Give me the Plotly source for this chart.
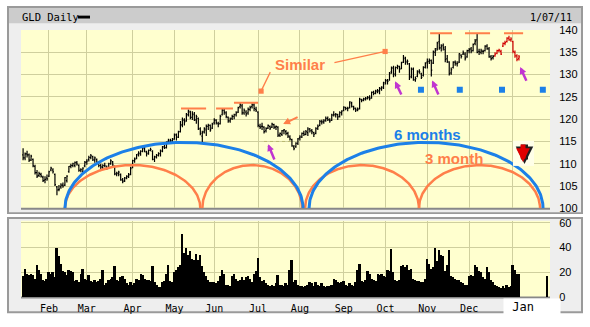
import numpy as np
import plotly.graph_objects as go

W, H = 590, 327


def px(x):
    return x / W


def py(y):
    return 1 - y / H


# x positions are trading-day numbers, day 0 = 12 Jan 2010
MONTHS = ["Feb", "Mar", "Apr", "May", "Jun", "Jul", "Aug", "Sep", "Oct", "Nov", "Dec", "Jan"]
MONTH_START = [13, 32, 55, 76, 96, 118, 139, 161, 182, 203, 224, 246]

OPEN = [
    112.0, 111.3, 112.2, 112.0, 110.8, 111.0, 109.4, 108.0, 107.4, 107.6, 107.0, 106.3, 106.8,
    107.2, 108.6, 108.6, 107.6, 104.8, 104.2, 104.8, 105.2, 105.2, 106.2, 108.2, 109.4, 109.6, 109.6, 110.2, 109.6, 108.6, 108.2, 109.5,
    110.4, 111.0, 111.4, 111.6, 110.8, 111.0, 110.3, 109.6, 109.2, 109.6, 109.2, 109.2, 110.0, 110.4, 109.4, 107.6, 107.8, 107.6, 106.4, 106.2, 106.8, 107.2, 107.6,
    109.2, 110.7, 111.2, 112.2, 112.2, 112.8, 113.4, 112.6, 112.4, 113.0, 112.8, 111.0, 111.6, 111.9, 112.2, 112.8, 113.8, 113.6, 115.0, 115.0, 115.2,
    115.6, 116.4, 116.0, 117.2, 118.8, 119.8, 119.6, 121.0, 121.6, 120.4, 121.0, 119.8, 120.2, 117.8, 116.2, 117.2, 117.6, 118.4, 118.6, 118.0,
    119.2, 119.8, 119.0, 119.0, 121.0, 122.0, 121.4, 120.4, 119.6, 120.2, 120.6, 121.0, 121.6, 122.8, 123.0, 121.4, 121.6, 121.4, 122.2, 122.8, 123.2, 122.2,
    121.6, 118.4, 118.4, 118.2, 117.4, 118.0, 118.4, 118.2, 118.8, 118.2, 118.2, 116.4, 116.6, 117.4, 117.2, 116.8, 116.0, 115.4, 113.8, 113.8, 114.6,
    115.8, 116.0, 116.8, 116.6, 117.0, 117.8, 117.4, 117.0, 116.8, 118.0, 118.6, 119.4, 119.4, 119.8, 120.2, 119.8, 119.8, 121.0, 121.0, 121.0, 120.6, 121.4,
    122.0, 122.6, 122.4, 122.6, 123.6, 122.8, 122.4, 122.0, 122.4, 124.4, 124.2, 124.6, 124.8, 124.8, 124.8, 126.0, 125.8, 126.4, 126.4, 126.8, 127.2,
    128.2, 128.6, 128.8, 130.6, 131.4, 130.2, 131.6, 131.8, 131.4, 132.8, 133.6, 132.8, 132.4, 129.6, 131.2, 128.8, 129.6, 130.6, 130.2, 129.8, 131.6,
    132.8, 133.0, 133.2, 132.6, 135.0, 135.8, 137.4, 136.0, 136.6, 135.6, 133.6, 132.8, 130.4, 131.6, 132.8, 132.4, 132.8, 134.4, 134.6, 134.6, 134.0,
    135.4, 135.8, 135.4, 137.0, 137.8, 135.2, 135.0, 135.2, 135.4, 136.4, 135.8, 134.0, 133.8, 134.2, 134.8, 135.4, 135.2, 136.4, 137.0, 137.4, 138.2, 137.8,
    137.4, 135.0, 134.2, 133.6,
]
HIGH = [
    113.5, 112.5, 112.9, 112.3, 112.0, 111.2, 109.8, 108.6, 108.2, 108.0, 107.3, 107.2, 107.6,
    108.4, 109.3, 109.0, 107.8, 105.0, 105.2, 105.6, 105.8, 107.0, 107.4, 109.5, 110.0, 110.2, 110.5, 110.6, 109.9, 109.0, 109.2, 110.6,
    111.0, 111.8, 112.2, 111.8, 111.6, 111.2, 110.5, 110.0, 109.9, 110.2, 109.6, 110.2, 111.0, 110.6, 109.6, 108.2, 108.4, 107.8, 106.8, 107.0, 107.4, 107.9, 109.3,
    110.9, 111.4, 112.2, 112.8, 113.0, 113.8, 113.8, 112.9, 113.2, 113.6, 113.0, 111.8, 112.2, 112.6, 113.2, 114.0, 114.2, 115.0, 115.6, 115.6, 115.8,
    116.8, 116.8, 117.4, 119.6, 120.4, 120.2, 121.4, 122.2, 121.9, 121.8, 121.6, 121.0, 120.4, 118.2, 117.4, 118.2, 118.8, 119.0, 118.8, 119.2,
    120.2, 120.0, 119.4, 121.0, 122.4, 122.4, 121.8, 120.6, 120.4, 121.0, 121.2, 121.8, 122.8, 123.7, 123.4, 122.4, 122.0, 122.6, 123.0, 123.6, 123.6, 122.8,
    121.8, 119.0, 119.2, 118.4, 118.2, 118.8, 118.6, 119.2, 119.0, 118.6, 118.4, 117.0, 117.6, 117.8, 117.6, 117.2, 116.4, 115.6, 114.2, 114.8, 115.8,
    116.4, 117.0, 117.4, 117.6, 118.2, 118.0, 117.8, 117.2, 118.2, 118.8, 119.8, 119.9, 120.0, 120.6, 120.6, 120.2, 121.2, 121.8, 121.4, 121.2, 121.8, 122.0,
    122.9, 122.8, 122.8, 124.0, 123.9, 123.0, 122.6, 122.6, 124.8, 124.6, 124.8, 125.0, 125.2, 125.4, 126.2, 126.4, 126.6, 126.8, 127.2, 127.4, 128.4,
    129.0, 129.0, 130.6, 131.8, 132.0, 131.8, 132.2, 132.0, 132.9, 134.4, 134.0, 133.4, 132.6, 131.6, 131.6, 129.6, 131.0, 131.2, 130.4, 131.9, 132.8,
    133.6, 133.6, 133.4, 135.4, 136.0, 137.4, 139.3, 136.8, 137.0, 136.4, 134.4, 133.0, 131.6, 133.0, 133.2, 133.0, 134.8, 134.6, 135.4, 135.0, 135.6,
    136.0, 136.2, 137.0, 138.0, 139.1, 135.8, 135.8, 135.6, 136.6, 136.8, 136.2, 134.4, 134.4, 135.0, 135.6, 135.8, 135.6, 137.2, 137.6, 138.4, 138.7, 138.4,
    137.6, 135.4, 134.6, 134.4,
]
LOW = [
    110.8, 110.8, 111.4, 110.4, 110.6, 109.2, 107.6, 106.8, 107.0, 106.9, 105.9, 105.6, 106.2,
    107.0, 108.3, 107.8, 105.0, 102.9, 103.8, 104.4, 104.6, 105.0, 105.8, 108.0, 109.0, 109.2, 109.2, 109.6, 108.2, 108.1, 107.7, 109.2,
    109.8, 110.5, 111.0, 110.6, 110.2, 110.0, 109.2, 108.8, 108.7, 109.2, 108.6, 109.0, 109.8, 109.4, 107.4, 107.2, 107.2, 106.2, 105.6, 105.9, 106.5, 106.8, 107.4,
    109.0, 110.2, 111.0, 111.6, 111.8, 112.6, 112.6, 111.6, 112.0, 112.8, 110.8, 110.4, 111.2, 111.6, 111.6, 112.6, 113.3, 113.4, 114.6, 114.5, 114.8,
    115.4, 115.2, 115.8, 117.0, 118.2, 118.6, 119.4, 120.6, 120.0, 119.8, 119.6, 119.0, 117.6, 116.4, 114.6, 116.8, 116.2, 117.6, 117.2, 117.8,
    118.8, 118.8, 118.2, 118.8, 120.8, 121.0, 120.2, 119.2, 119.2, 119.8, 120.0, 120.6, 121.4, 122.4, 121.0, 121.0, 120.6, 121.0, 121.8, 122.4, 121.8, 121.6,
    118.2, 117.8, 117.6, 116.8, 117.0, 117.8, 117.6, 118.0, 117.8, 117.6, 116.0, 116.0, 116.2, 116.6, 116.4, 115.8, 115.2, 113.8, 113.0, 113.6, 114.2,
    115.2, 115.8, 116.2, 116.4, 116.2, 117.0, 116.6, 116.0, 116.6, 117.6, 118.4, 118.8, 119.0, 119.4, 119.6, 119.2, 119.6, 120.6, 120.4, 119.8, 120.4, 120.8,
    121.8, 122.0, 121.8, 122.4, 122.6, 122.0, 121.6, 121.8, 122.2, 123.8, 124.0, 124.2, 124.4, 124.2, 124.6, 125.4, 125.6, 125.8, 125.6, 126.4, 126.8,
    127.8, 127.8, 128.6, 130.2, 129.4, 129.6, 131.2, 130.4, 131.2, 132.6, 132.2, 132.2, 128.8, 129.2, 128.6, 128.4, 129.4, 130.2, 129.0, 129.6, 131.4,
    131.4, 132.4, 129.6, 132.4, 134.2, 135.4, 135.6, 135.2, 135.4, 132.8, 132.6, 129.8, 130.0, 131.4, 132.0, 131.8, 132.6, 133.6, 134.4, 133.2, 133.8,
    134.8, 134.8, 135.2, 136.6, 134.8, 134.4, 134.6, 134.6, 135.2, 135.6, 133.8, 133.2, 133.4, 134.0, 134.6, 135.0, 134.4, 136.2, 136.6, 137.2, 137.6, 137.4,
    134.8, 133.8, 133.0, 133.2,
]
CLOSE = [
    111.3, 112.2, 112.0, 110.8, 111.7, 109.5, 108.0, 107.2, 107.8, 107.2, 106.2, 106.5, 106.6,
    108.2, 109.0, 108.2, 105.3, 104.1, 104.3, 105.2, 105.0, 106.9, 107.2, 109.4, 109.6, 110.0, 110.3, 109.9, 108.5, 108.7, 109.0, 110.3,
    110.6, 111.4, 111.8, 110.9, 111.3, 110.3, 109.6, 109.3, 109.6, 109.5, 109.0, 110.0, 110.7, 109.7, 107.8, 107.9, 108.1, 106.4, 106.0, 106.8, 107.1, 107.5, 108.9,
    110.7, 111.0, 112.0, 112.4, 112.8, 113.6, 112.8, 112.2, 113.0, 113.2, 111.0, 111.5, 111.9, 112.3, 112.9, 113.8, 113.6, 114.9, 115.3, 115.1, 115.4,
    116.6, 115.9, 117.2, 118.6, 119.8, 119.4, 121.0, 121.8, 120.4, 121.2, 119.9, 120.6, 117.9, 116.8, 117.0, 117.9, 118.4, 118.6, 117.6, 118.9,
    119.8, 119.2, 118.9, 120.6, 122.0, 121.6, 120.6, 119.6, 120.0, 120.6, 121.0, 121.4, 122.6, 123.2, 121.4, 122.0, 121.2, 122.2, 122.6, 123.2, 122.4, 122.0,
    118.6, 118.2, 118.4, 117.2, 117.9, 118.6, 118.0, 118.9, 118.2, 118.4, 116.4, 116.8, 117.4, 117.6, 116.8, 116.2, 115.6, 114.0, 113.4, 114.6, 115.6,
    116.0, 116.8, 116.6, 117.2, 117.8, 117.4, 117.2, 116.6, 117.9, 118.4, 119.5, 119.4, 119.6, 120.2, 119.9, 119.6, 120.9, 121.0, 121.1, 120.5, 121.5, 121.8,
    122.7, 122.4, 122.4, 123.9, 122.9, 122.5, 122.1, 122.2, 124.5, 124.3, 124.5, 124.6, 124.9, 124.6, 126.0, 125.8, 126.2, 126.3, 126.9, 127.0, 127.9,
    128.7, 128.5, 130.3, 131.6, 130.0, 131.6, 131.9, 131.2, 132.7, 133.9, 133.0, 133.0, 129.3, 131.3, 128.9, 129.1, 130.8, 130.6, 129.4, 131.7, 132.6,
    132.9, 133.1, 131.0, 135.1, 135.4, 137.1, 136.0, 136.4, 136.0, 133.4, 133.0, 130.2, 131.1, 132.8, 132.6, 132.5, 134.7, 134.1, 134.9, 133.7, 135.4,
    135.6, 135.3, 136.8, 137.5, 135.0, 135.1, 135.3, 135.2, 136.4, 135.8, 134.0, 133.6, 134.1, 134.6, 135.4, 135.5, 134.6, 137.0, 137.2, 138.2, 137.8, 138.0,
    135.2, 134.2, 133.4, 134.0,
]
VOLUME = [
    17, 23, 19, 18, 19, 18, 15, 26, 22, 19, 14, 13, 15,
    20, 19, 20, 16, 40, 33, 27, 21, 20, 18, 22, 21, 20, 13, 14, 12, 19, 23, 15,
    14, 18, 13, 12, 14, 12, 13, 15, 22, 10, 11, 14, 15, 16, 25, 14, 13, 16, 17, 15, 11, 10, 12,
    10, 11, 15, 14, 19, 18, 15, 14, 14, 13, 25, 12, 10, 8, 8, 12, 13, 19, 26, 13, 12,
    20, 22, 24, 26, 51, 36, 40, 34, 37, 31, 30, 35, 30, 34, 25, 20, 17, 14, 12, 12,
    12, 11, 13, 17, 22, 19, 10, 10, 9, 17, 19, 15, 13, 14, 16, 14, 16, 17, 15, 12, 19, 21,
    32, 16, 13, 14, 11, 10, 9, 10, 9, 11, 18, 10, 10, 9, 11, 10, 22, 30, 12, 14, 10,
    9, 9, 8, 9, 10, 12, 11, 9, 12, 10, 9, 11, 9, 8, 9, 9, 10, 15, 14, 12, 11, 12,
    13, 10, 9, 11, 10, 9, 12, 22, 27, 13, 12, 14, 21, 19, 15, 14, 13, 19, 18, 19, 17,
    16, 22, 21, 39, 20, 14, 13, 14, 25, 26, 24, 26, 22, 23, 15, 14, 13, 13, 12, 12, 15,
    31, 27, 23, 24, 40, 29, 38, 34, 33, 21, 26, 38, 17, 16, 15, 14, 14, 12, 11, 10, 10,
    17, 18, 17, 26, 24, 21, 20, 16, 15, 24, 20, 14, 12, 10, 9, 8, 7, 9, 7, 10, 8, 9,
    26, 22, 19, 19,
]
RED_FROM = 237          # last stretch of bars is painted red
LATEST_VOL = (263, 17)  # lone volume stick at the right edge

PRICE_TICKS = [100, 105, 110, 115, 120, 125, 130, 135, 140]
VOL_TICKS = [0, 20, 40, 60]

# resistance tops: (first day, last day, level)
TOPS = [(79.3, 91.9, 122.4), (96.9, 105.4, 122.4), (105.9, 118.0, 123.7),
        (204.4, 215.4, 139.3), (221.9, 234.5, 139.3), (241.5, 251.1, 139.3)]

# cycle arcs: (start day, end day, crest level)
CYCLE_3M = [(21.0, 89.0, 109.7), (90.0, 140.1, 109.7), (141.6, 198.8, 109.7), (198.8, 259.6, 109.7)]
CYCLE_6M = [(21.0, 140.6, 114.8), (143.6, 261.1, 114.8)]

BLUE_DOTS_X = [199.8, 219.3, 240.5, 261.0]
BLUE_DOTS_Y = [126.6, 126.6, 126.6, 126.6]

# purple arrows: (head day, head price, tail day, tail price)
PURPLE_ARROWS = [(123.0, 114.4, 126.5, 110.6), (186.8, 128.5, 190.3, 125.2),
                 (205.4, 128.7, 208.9, 125.2), (249.6, 131.7, 253.1, 128.3)]

BLUE = "#1C80E8"
ORANGE = "#FF7F4A"
PURPLE = "#C035D0"
GRID = "#CFCF9E"
YELLOW = "#FFFFCF"

X0, X1 = 21, 550
XR = [-1.05, 264.6]

days = np.arange(len(CLOSE))
fig = go.Figure()

# black bars, then the red tail
k = RED_FROM
for sl, col in ((slice(0, k), "black"), (slice(k, None), "#D00000")):
    fig.add_trace(go.Ohlc(
        x=days[sl], open=OPEN[sl], high=HIGH[sl], low=LOW[sl], close=CLOSE[sl],
        increasing=dict(line=dict(color=col, width=1.2)),
        decreasing=dict(line=dict(color=col, width=1.2)),
        tickwidth=0.5, hoverinfo="skip", showlegend=False, xaxis="x", yaxis="y"))


def arc(x0, x1, top, base=100.0, n=160):
    t = np.linspace(0, np.pi, n)
    cx, a = (x0 + x1) / 2, (x1 - x0) / 2
    return cx - a * np.cos(t), base + (top - base) * np.sin(t)


for x0, x1, top in CYCLE_3M:
    ax_, ay_ = arc(x0, x1, top)
    fig.add_trace(go.Scatter(x=ax_, y=ay_, mode="lines", line=dict(color=ORANGE, width=2.5),
                             hoverinfo="skip", showlegend=False))
for x0, x1, top in CYCLE_6M:
    ax_, ay_ = arc(x0, x1, top)
    fig.add_trace(go.Scatter(x=ax_, y=ay_, mode="lines", line=dict(color=BLUE, width=3),
                             hoverinfo="skip", showlegend=False))

for x0, x1, lvl in TOPS:
    fig.add_trace(go.Scatter(x=[x0, x1], y=[lvl, lvl], mode="lines",
                             line=dict(color=ORANGE, width=2), hoverinfo="skip", showlegend=False))

fig.add_trace(go.Scatter(x=BLUE_DOTS_X, y=BLUE_DOTS_Y, mode="markers",
                         marker=dict(symbol="square", size=6, color=BLUE),
                         hoverinfo="skip", showlegend=False))

# volume
fig.add_trace(go.Bar(x=days, y=VOLUME, width=1.0, marker=dict(color="black", line=dict(width=0)),
                     xaxis="x2", yaxis="y2", hoverinfo="skip", showlegend=False))
fig.add_trace(go.Bar(x=[LATEST_VOL[0]], y=[LATEST_VOL[1]], width=0.7,
                     marker=dict(color="black", line=dict(width=0)),
                     xaxis="x2", yaxis="y2", hoverinfo="skip", showlegend=False))

# frames and backgrounds (paper space)
shapes = [
    dict(type="rect", x0=px(7), x1=px(583), y0=py(216), y1=py(0), fillcolor="#9A9A9A", line=dict(width=0)),
    dict(type="rect", x0=px(9), x1=px(581), y0=py(214), y1=py(2), fillcolor="#EEEEEE", line=dict(width=0)),
    dict(type="rect", x0=px(9), x1=px(581), y0=py(18), y1=py(2), fillcolor="#CCCCCC", line=dict(width=0)),
    dict(type="rect", x0=px(7), x1=px(583), y0=py(319), y1=py(219), fillcolor="#9A9A9A", line=dict(width=0)),
    dict(type="rect", x0=px(9), x1=px(581), y0=py(317), y1=py(221), fillcolor="#EEEEEE", line=dict(width=0)),
    dict(type="rect", x0=px(X0), x1=px(X1), y0=py(210), y1=py(25), fillcolor=YELLOW, line=dict(width=0)),
    dict(type="rect", x0=px(X0), x1=px(X1), y0=py(302), y1=py(223), fillcolor=YELLOW, line=dict(width=0)),
    # header dash
    dict(type="rect", x0=px(78), x1=px(90), y0=py(13), y1=py(10), fillcolor="black", line=dict(width=0)),
    # axis base lines
    dict(type="line", x0=px(X0), x1=px(X1), y0=py(210.5), y1=py(210.5), line=dict(color="#888888", width=2)),
    dict(type="line", x0=px(X0), x1=px(X1), y0=py(302.5), y1=py(302.5), line=dict(color="#888888", width=2)),
]
for s in shapes:
    s.update(xref="paper", yref="paper", layer="below")

# pale backdrop of the red signal arrow
shapes.append(dict(type="rect", xref="paper", yref="paper", layer="above",
                   x0=px(513), x1=px(534), y0=py(166), y1=py(140),
                   fillcolor="#FFFFE8", line=dict(width=0)))
# dotted support line in July
shapes.append(dict(type="line", xref="x", yref="y", layer="above", x0=121.0, x1=135.0, y0=115.0, y1=115.0,
                   line=dict(color="#B8B870", width=1, dash="dot")))


def label(x, y, text, size, color, family="Liberation Sans", anchor="center"):
    return dict(xref="paper", yref="paper", x=px(x), y=py(y), xanchor=anchor, yanchor="middle",
                text=text, showarrow=False, font=dict(family=family, size=size, color=color))


ann = [
    label(20, 11, "GLD Daily", 10.5, "black", "DejaVu Sans Mono", "left"),
    label(574, 11.5, "1/07/11", 10, "black", "DejaVu Sans Mono", "right"),
    label(300, 61, "<b>Similar</b>", 15, ORANGE),
    label(427, 133, "<b>6 months</b>", 15, BLUE),
    label(454, 158, "<b>3 month</b>", 15, ORANGE),
]
ann.append(dict(xref="paper", yref="paper", x=px(503), y=py(312), xanchor="left", yanchor="middle",
                text=" Jan", showarrow=False, bgcolor="white", width=54, height=14, align="left",
                font=dict(family="DejaVu Sans Mono", size=12, color="black")))

# pointers from "Similar"
ann.append(dict(xref="x", yref="y", axref="x", ayref="y", x=119.5, y=126.3, ax=124.5, ay=130.9,
                text="", showarrow=True, arrowhead=7, arrowsize=1.0, arrowwidth=1.3, arrowcolor=ORANGE))
ann.append(dict(xref="x", yref="y", axref="x", ayref="y", x=181.8, y=135.2, ax=155.6, ay=132.6,
                text="", showarrow=True, arrowhead=7, arrowsize=1.0, arrowwidth=1.3, arrowcolor=ORANGE))
# July arrow
ann.append(dict(xref="x", yref="y", axref="x", ayref="y", x=130.6, y=118.9, ax=138.6, ay=120.65,
                text="", showarrow=True, arrowhead=2, arrowsize=0.7, arrowwidth=2, arrowcolor=ORANGE))
for hx, hy, tx, ty in PURPLE_ARROWS:
    ann.append(dict(xref="x", yref="y", axref="x", ayref="y", x=hx, y=hy, ax=tx, ay=ty,
                    text="", showarrow=True, arrowhead=2, arrowsize=0.55, arrowwidth=2.5, arrowcolor=PURPLE))
# red sell arrow with dark outline
ann.append(dict(xref="paper", yref="paper", axref="pixel", ayref="pixel", x=px(524.5), y=py(164),
                ax=0, ay=-21, text="", showarrow=True, arrowhead=2, arrowsize=0.5, arrowwidth=7,
                arrowcolor="#202020"))
ann.append(dict(xref="paper", yref="paper", axref="pixel", ayref="pixel", x=px(523), y=py(162),
                ax=0, ay=-19, text="", showarrow=True, arrowhead=2, arrowsize=0.55, arrowwidth=5,
                arrowcolor="#E00000"))

grid = dict(showgrid=True, gridcolor=GRID, gridwidth=1, zeroline=False, showline=False)
tickfont = dict(family="Liberation Sans", size=11, color="black")

fig.update_layout(
    width=W, height=H, margin=dict(l=0, r=0, t=0, b=0),
    paper_bgcolor="white", plot_bgcolor="rgba(0,0,0,0)",
    shapes=shapes, annotations=ann, bargap=0, showlegend=False,
    xaxis=dict(domain=[px(X0), px(X1)], range=XR, tickvals=MONTH_START, showticklabels=False,
               ticks="", rangeslider=dict(visible=False), anchor="y", **grid),
    yaxis=dict(domain=[py(210), py(25)], range=[100, 140], side="right", tickvals=PRICE_TICKS,
               ticks="outside", ticklen=6, tickcolor="rgba(0,0,0,0)", tickfont=tickfont,
               anchor="x", **grid),
    xaxis2=dict(domain=[px(X0), px(X1)], range=XR, tickvals=MONTH_START,
                ticktext=MONTHS[:-1] + [""], ticks="outside", ticklen=2, tickcolor="rgba(0,0,0,0)",
                tickfont=dict(family="DejaVu Sans Mono", size=10, color="black"),
                anchor="y2", rangeslider=dict(visible=False), **grid),
    yaxis2=dict(domain=[py(302), py(223)], range=[0, 61.5], side="right", tickvals=VOL_TICKS,
                ticks="outside", ticklen=6, tickcolor="rgba(0,0,0,0)", tickfont=tickfont,
                anchor="x2", **grid),
)

fig.write_html("out.html")
